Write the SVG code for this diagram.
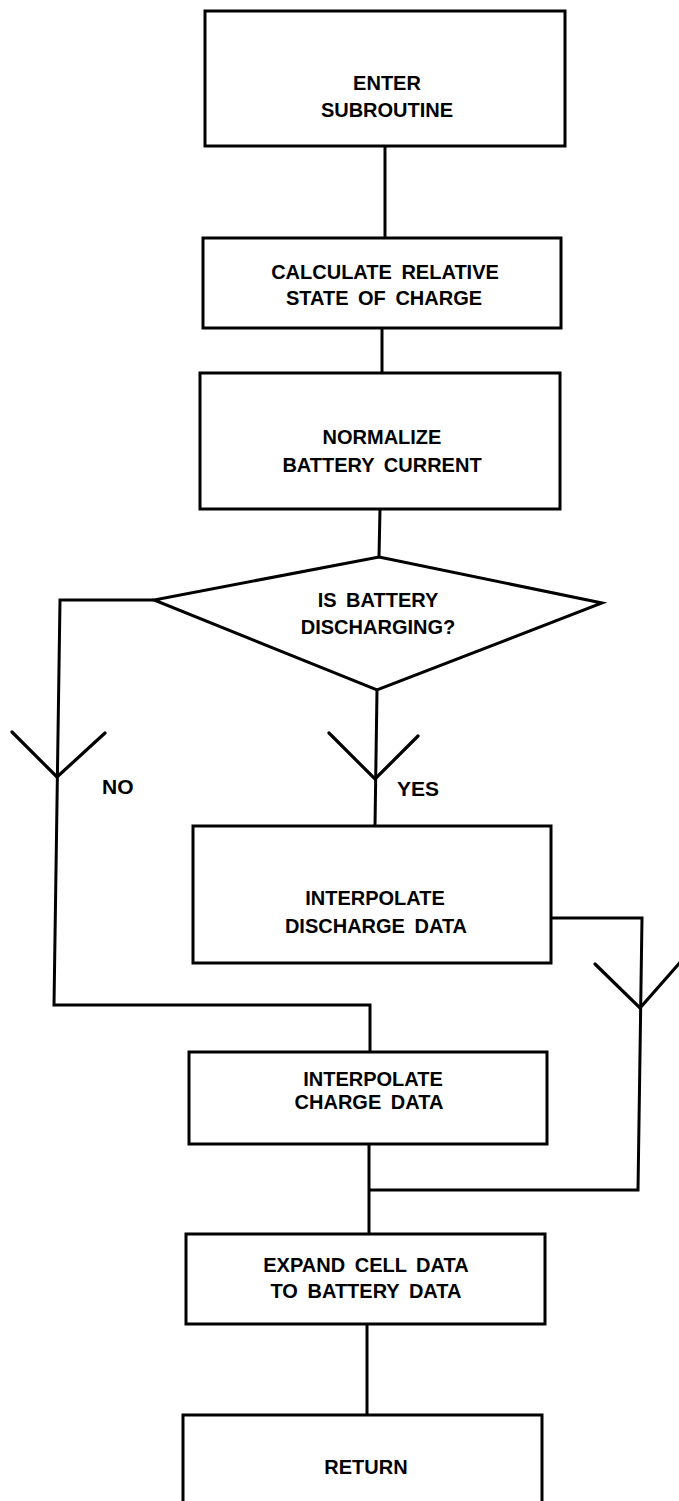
<svg xmlns="http://www.w3.org/2000/svg" width="679" height="1501" viewBox="0 0 679 1501">
<style>
.box{fill:none;stroke:#000;stroke-width:3;stroke-linejoin:miter}
.ln{fill:none;stroke:#000;stroke-width:3;stroke-linejoin:miter}
.arr{fill:none;stroke:#000;stroke-width:3.2;stroke-linecap:round}
text{font-family:"Liberation Sans",Arial,sans-serif;font-weight:bold;font-size:20px;fill:#000;text-anchor:middle;word-spacing:4px}
.lbl{text-anchor:start;font-size:21px}
</style>
<rect width="679" height="1501" fill="#fff"/>
<g id="connectors">
<polyline class="ln" points="385,146 385,238"/>
<polyline class="ln" points="382,328 382,373"/>
<polyline class="ln" points="380,509 379,557"/>
<polyline class="ln" points="154,600 60,600 54,1005 370,1005 370,1052"/>
<polyline class="ln" points="377,690 375,826"/>
<polyline class="ln" points="551,918 642,918 638,1190 369,1190"/>
<polyline class="ln" points="369,1144 369,1234"/>
<polyline class="ln" points="367,1324 367,1415"/>
<polyline class="arr" points="12,732 57,777 105,733"/>
<polyline class="arr" points="329,733 375,779 418,736"/>
<polyline class="arr" points="595,964 640,1008 684,958"/>
<text class="lbl" x="102" y="794">NO</text>
<text class="lbl" x="397" y="796">YES</text>
</g>
<g id="n1">
<rect class="box" x="205" y="11" width="360" height="135"/>
<text x="387" y="90">ENTER</text>
<text x="387" y="117">SUBROUTINE</text>
</g>
<g id="n2">
<rect class="box" x="203" y="238" width="358" height="90"/>
<text x="385" y="279">CALCULATE RELATIVE</text>
<text x="384" y="305">STATE OF CHARGE</text>
</g>
<g id="n3">
<rect class="box" x="200" y="373" width="360" height="136"/>
<text x="382" y="444">NORMALIZE</text>
<text x="382" y="472">BATTERY CURRENT</text>
</g>
<g id="n4">
<polygon class="box" points="379,557 602,603 377,690 154,600"/>
<text x="378" y="607">IS BATTERY</text>
<text x="378" y="634">DISCHARGING?</text>
</g>
<g id="n5">
<rect class="box" x="193" y="826" width="358" height="137"/>
<text x="375" y="905">INTERPOLATE</text>
<text x="376" y="933">DISCHARGE DATA</text>
</g>
<g id="n6">
<rect class="box" x="189" y="1052" width="358" height="92"/>
<text x="373" y="1086">INTERPOLATE</text>
<text x="369" y="1109">CHARGE DATA</text>
</g>
<g id="n7">
<rect class="box" x="186" y="1234" width="359" height="90"/>
<text x="366" y="1272">EXPAND CELL DATA</text>
<text x="366" y="1298">TO BATTERY DATA</text>
</g>
<g id="n8">
<rect class="box" x="183" y="1415" width="359" height="100"/>
<text x="366" y="1474">RETURN</text>
</g>
</svg>
